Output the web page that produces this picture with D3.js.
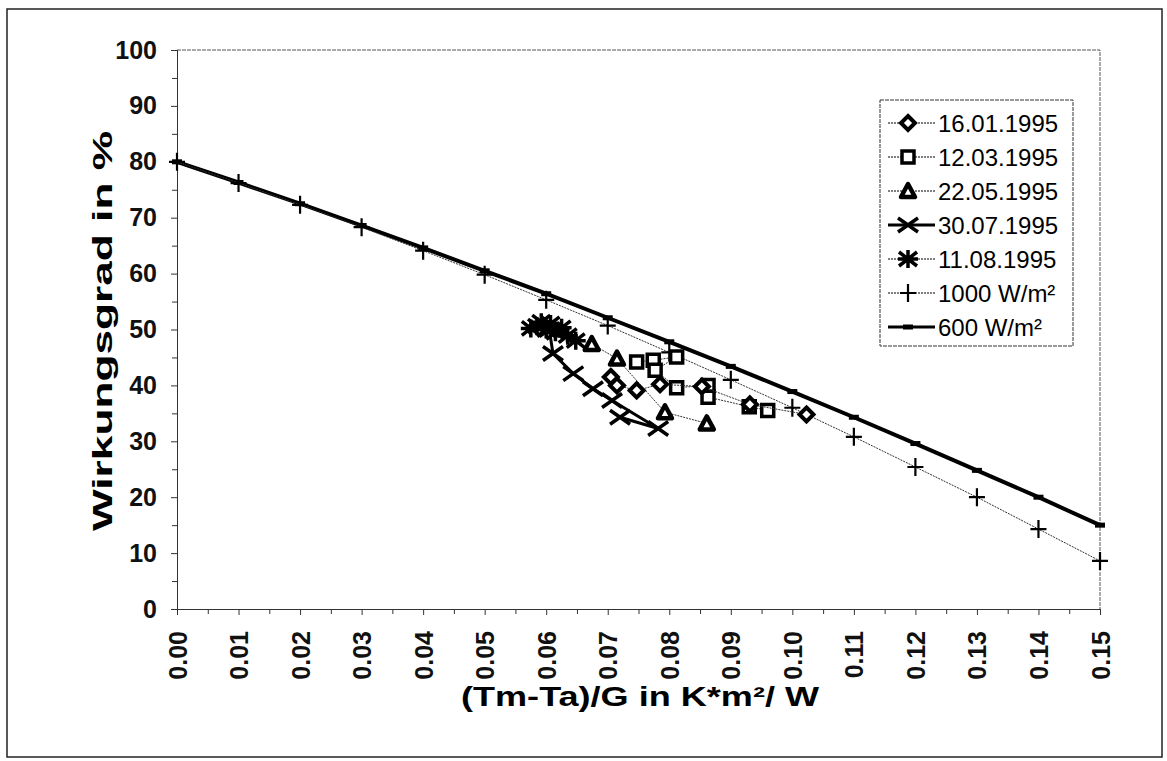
<!DOCTYPE html>
<html>
<head>
<meta charset="utf-8">
<script src="https://cdn.jsdelivr.net/npm/d3@7"></script>
<style>
  body { margin: 0; background: #fff; }
  text { font-family: Arial, "Liberation Sans", sans-serif; }
</style>
</head>
<body>
<svg width="1167" height="761"></svg>
<script>
// values
var xTickValues = [0, 0.01, 0.02, 0.03, 0.04, 0.05, 0.06, 0.07, 0.08, 0.09, 0.10, 0.11, 0.12, 0.13, 0.14, 0.15];
var yTickValues = [0, 10, 20, 30, 40, 50, 60, 70, 80, 90, 100];

var x1601 = [0.0705, 0.0715, 0.0747, 0.0785, 0.0853, 0.0931, 0.1023];
var y1601 = [41.5, 40.0, 39.1, 40.2, 39.8, 36.6, 34.8];

var x1203 = [0.0747, 0.0774, 0.0812, 0.0777, 0.0812, 0.0863, 0.0863, 0.0930, 0.0960];
var y1203 = [44.2, 44.5, 45.1, 42.7, 39.6, 40.0, 37.9, 36.2, 35.5];

var x2205 = [0.0674, 0.0715, 0.0793, 0.0861];
var y2205 = [47.4, 44.8, 35.2, 33.2];

var x3007 = [0.0605, 0.0611, 0.0644, 0.0676, 0.0707, 0.0782, 0.0720];
var y3007 = [50.0, 45.7, 42.1, 39.4, 37.3, 32.3, 34.3];

var x1108 = [0.0575, 0.0585, 0.0592, 0.0600, 0.0607, 0.0615, 0.0625, 0.0635, 0.0648];
var y1108 = [50.2, 50.6, 51.3, 50.0, 51.0, 49.5, 50.3, 48.9, 48.0];

var xRef = [0, 0.01, 0.02, 0.03, 0.04, 0.05, 0.06, 0.07, 0.08, 0.09, 0.10, 0.11, 0.12, 0.13, 0.14, 0.15];
var y1000 = [80, 76.2, 72.3, 68.3, 64.1, 59.8, 55.3, 50.7, 45.9, 41.0, 36.0, 30.8, 25.4, 20.0, 14.3, 8.6];
var y600 = [80, 76.3, 72.5, 68.6, 64.6, 60.5, 56.4, 52.1, 47.8, 43.4, 38.9, 34.3, 29.6, 24.8, 20.0, 15.0];

var legendNames = ["16.01.1995", "12.03.1995", "22.05.1995", "30.07.1995", "11.08.1995", "1000 W/m²", "600 W/m²"];

function zip(xs, ys) {
    return xs.map(function (v, i) { return {x: v, y: ys[i]}; });
}

var series = [
    {name: legendNames[0], data: zip(x1601, y1601), sym: "diamond", lw: 1},
    {name: legendNames[1], data: zip(x1203, y1203), sym: "square", lw: 1},
    {name: legendNames[2], data: zip(x2205, y2205), sym: "triangle", lw: 1},
    {name: legendNames[3], data: zip(x3007, y3007), sym: "cross", lw: 3},
    {name: legendNames[4], data: zip(x1108, y1108), sym: "star", lw: 1},
    {name: legendNames[5], data: zip(xRef, y1000), sym: "plus", lw: 1},
    {name: legendNames[6], data: zip(xRef, y600), sym: "dash", lw: 4}
];

var svg = d3.select("svg"),
    margin = {top: 50, right: 67, bottom: 152, left: 177},
    width = +svg.attr("width") - margin.left - margin.right,
    height = +svg.attr("height") - margin.top - margin.bottom;

// outer frame
svg.append("rect")
    .attr("x", 7).attr("y", 9)
    .attr("width", 1155).attr("height", 748)
    .attr("fill", "none").attr("stroke", "#222").attr("stroke-width", 1.5);

var x = d3.scaleLinear().domain([0, 0.15]).range([0, width]);
var y = d3.scaleLinear().domain([0, 100]).range([height, 0]);

var g = svg.append("g")
    .attr("transform", "translate(" + margin.left + "," + margin.top + ")");

// plot area border (top and right)
g.append("path")
    .attr("d", "M0,0H" + width + "V" + height)
    .attr("fill", "none").attr("stroke", "#555").attr("stroke-width", 1)
    .attr("stroke-dasharray", "4,1");

// minor ticks
var xMinor = xTickValues.slice(0, -1).map(function (d) { return d + 0.005; });
var yMinor = yTickValues.slice(0, -1).map(function (d) { return d + 5; });

g.append("g")
    .attr("class", "x axis")
    .attr("transform", "translate(0," + height + ")")
    .call(d3.axisBottom(x).tickValues(xMinor).tickSize(5).tickFormat(""));
g.append("g")
    .attr("class", "y axis")
    .call(d3.axisLeft(y).tickValues(yMinor).tickSize(5).tickFormat(""));

var xAxis = g.append("g")
    .attr("class", "x axis")
    .attr("transform", "translate(0," + height + ")")
    .call(d3.axisBottom(x).tickValues(xTickValues).tickSize(6).tickPadding(4)
        .tickFormat(d3.format(".2f")));
xAxis.selectAll("text")
    .attr("transform", "rotate(-90)")
    .attr("x", -22).attr("y", 0).attr("dy", "0.36em")
    .style("text-anchor", "end");

var yAxis = g.append("g")
    .attr("class", "y axis")
    .call(d3.axisLeft(y).tickValues(yTickValues).tickSize(6).tickPadding(14));

g.selectAll(".axis text")
    .attr("font-size", 25).attr("font-weight", "bold").attr("fill", "#111")
    .attr("font-family", "Arial, 'Liberation Sans', sans-serif");
g.selectAll(".axis path, .axis line").attr("stroke", "#333");

// axis titles
svg.append("text")
    .attr("transform", "translate(112,331) rotate(-90)")
    .attr("text-anchor", "middle")
    .attr("font-size", 27).attr("font-weight", "bold")
    .attr("textLength", 400).attr("lengthAdjust", "spacingAndGlyphs")
    .text("Wirkungsgrad  in %");
svg.append("text")
    .attr("x", 640).attr("y", 706)
    .attr("text-anchor", "middle")
    .attr("font-size", 28).attr("font-weight", "bold")
    .attr("textLength", 358).attr("lengthAdjust", "spacingAndGlyphs")
    .text("(Tm-Ta)/G in  K*m²/ W");

// marker drawing
function marker(sel, sym) {
    if (sym === "diamond") {
        sel.append("path").attr("d", "M0,-7L7,0L0,7L-7,0Z")
            .attr("fill", "#fff").attr("stroke", "#000").attr("stroke-width", 4);
    } else if (sym === "square") {
        sel.append("path").attr("d", "M-6,-6H6V6H-6Z")
            .attr("fill", "#fff").attr("stroke", "#000").attr("stroke-width", 3.5);
    } else if (sym === "triangle") {
        sel.append("path").attr("d", "M0,-7L7,6H-7Z")
            .attr("fill", "#fff").attr("stroke", "#000").attr("stroke-width", 4.5)
            .attr("stroke-linejoin", "round");
    } else if (sym === "cross") {
        sel.append("path").attr("d", "M-10,-7L10,7M-10,7L10,-7")
            .attr("stroke", "#000").attr("stroke-width", 3.5);
    } else if (sym === "star") {
        sel.append("path").attr("d", "M-9,-7L9,7M-9,7L9,-7M0,-9V9M-10,0H10")
            .attr("stroke", "#000").attr("stroke-width", 3.5);
    } else if (sym === "plus") {
        sel.append("path").attr("d", "M-8,0H8M0,-9V9")
            .attr("stroke", "#000").attr("stroke-width", 2.2);
    } else if (sym === "dash") {
        sel.append("path").attr("d", "M-5,0H5")
            .attr("stroke", "#000").attr("stroke-width", 5);
    }
}

var line = d3.line()
    .x(function (d) { return x(d.x); })
    .y(function (d) { return y(d.y); });

series.slice().reverse().forEach(function (s) {
    g.append("path")
        .datum(s.data)
        .attr("d", line)
        .attr("fill", "none")
        .attr("stroke", s.lw > 1 ? "#000" : "#333")
        .attr("stroke-width", s.lw)
        .attr("stroke-dasharray", s.lw > 1 ? null : "2,1");
    g.selectAll(null)
        .data(s.data)
        .enter().append("g")
        .attr("transform", function (d) { return "translate(" + x(d.x) + "," + y(d.y) + ")"; })
        .each(function () { marker(d3.select(this), s.sym); });
});

// legend
var legend = svg.append("g").attr("transform", "translate(880,100)");
legend.append("rect")
    .attr("width", 193).attr("height", 246)
    .attr("fill", "#fff").attr("stroke", "#333").attr("stroke-width", 1)
    .attr("stroke-dasharray", "4,1");
series.forEach(function (s, i) {
    var row = legend.append("g").attr("transform", "translate(0," + (23 + i * 34) + ")");
    row.append("line")
        .attr("x1", 8).attr("x2", 55)
        .attr("stroke", "#000")
        .attr("stroke-width", s.lw > 1 ? 3 : 1)
        .attr("stroke-dasharray", s.lw > 1 ? null : "2,1");
    marker(row.append("g").attr("transform", "translate(28,0)"), s.sym);
    row.append("text")
        .attr("x", 58).attr("dy", "0.36em")
        .attr("font-size", 24)
        .text(s.name);
});
</script>
</body>
</html>
